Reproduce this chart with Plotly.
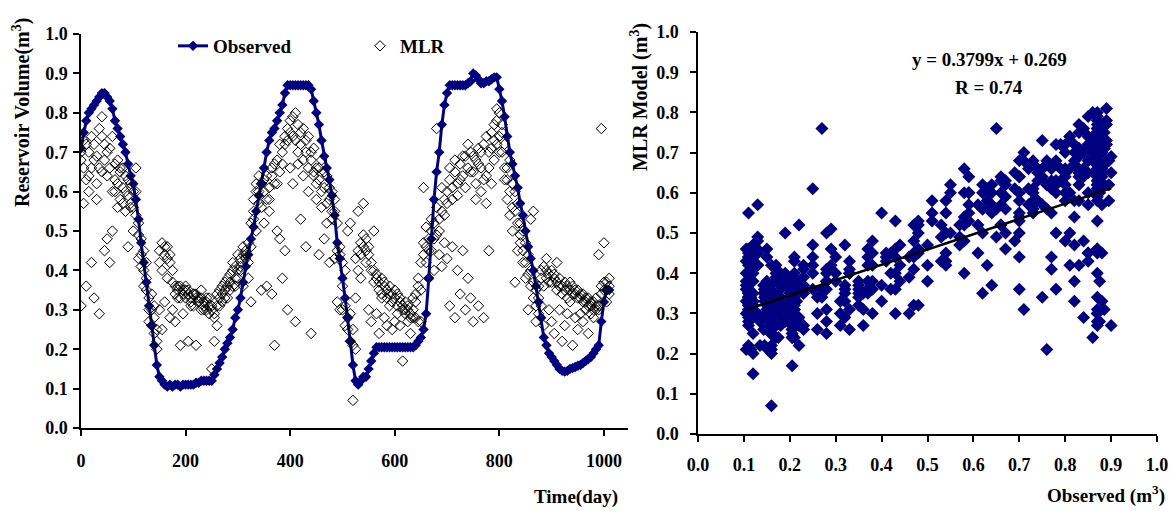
import plotly.graph_objects as go

# sample days (every 5 days)
days = list(range(0, 1015, 5))

# observed reservoir volume (m3)
observed = [
    0.71, 0.75, 0.78, 0.80, 0.81, 0.82, 0.83, 0.84, 0.85, 0.85,
    0.84, 0.83, 0.81, 0.78, 0.76, 0.74, 0.72, 0.70, 0.67, 0.64,
    0.62, 0.58, 0.53, 0.47, 0.42, 0.37, 0.31, 0.26, 0.21, 0.16,
    0.13, 0.12, 0.11, 0.105, 0.11, 0.105, 0.11, 0.11, 0.105, 0.11,
    0.11, 0.11, 0.11, 0.11, 0.115, 0.115, 0.12, 0.12, 0.12, 0.12,
    0.12, 0.135, 0.15, 0.165, 0.18, 0.20, 0.215, 0.23, 0.25, 0.28,
    0.30, 0.33, 0.37, 0.41, 0.44, 0.48, 0.51, 0.55, 0.59, 0.62,
    0.66, 0.70, 0.73, 0.75, 0.76, 0.78, 0.80, 0.82, 0.85, 0.87,
    0.87, 0.87, 0.87, 0.87, 0.87, 0.87, 0.87, 0.87, 0.86, 0.83,
    0.80, 0.77, 0.73, 0.69, 0.66, 0.63, 0.59, 0.54, 0.47, 0.43,
    0.38, 0.33, 0.28, 0.22, 0.16, 0.12, 0.11, 0.12, 0.13, 0.13,
    0.15, 0.17, 0.19, 0.205, 0.205, 0.205, 0.205, 0.205, 0.205, 0.205,
    0.205, 0.205, 0.205, 0.205, 0.205, 0.205, 0.205, 0.205, 0.21, 0.22,
    0.23, 0.25, 0.29, 0.38, 0.48, 0.58, 0.65, 0.70, 0.77, 0.82,
    0.85, 0.87, 0.87, 0.87, 0.87, 0.87, 0.87, 0.87, 0.875, 0.88,
    0.90, 0.895, 0.885, 0.875, 0.875, 0.88, 0.88, 0.885, 0.89, 0.89,
    0.86, 0.83, 0.79, 0.74, 0.70, 0.67, 0.64, 0.61, 0.57, 0.54,
    0.50, 0.46, 0.43, 0.40, 0.36, 0.32, 0.28, 0.23, 0.21, 0.19,
    0.18, 0.17, 0.16, 0.15, 0.145, 0.143, 0.145, 0.15, 0.152, 0.155,
    0.158, 0.16, 0.165, 0.17, 0.175, 0.18, 0.19, 0.20, 0.21, 0.27,
    0.32, 0.35, 0.35,
]

# MLR model output, three readings per sample day
mlr_a = [
    0.70, 0.66, 0.72, 0.64, 0.74, 0.68, 0.62, 0.76, 0.79, 0.72,
    0.70, 0.66, 0.74, 0.63, 0.68, 0.65, 0.61, 0.64, 0.59, 0.62,
    0.56, 0.60, 0.52, 0.48, 0.45, 0.38, 0.33, 0.30, 0.24, 0.20,
    0.45, 0.47, 0.44, 0.46, 0.42, 0.40, 0.36, 0.35, 0.36, 0.34,
    0.35, 0.34, 0.33, 0.34, 0.33, 0.32, 0.33, 0.31, 0.32, 0.31,
    0.30, 0.29, 0.31, 0.33, 0.34, 0.33, 0.36, 0.37, 0.36, 0.38,
    0.40, 0.43, 0.44, 0.45, 0.42, 0.46, 0.58, 0.62, 0.60, 0.56,
    0.60, 0.64, 0.58, 0.66, 0.62, 0.68, 0.65, 0.70, 0.72, 0.76,
    0.78, 0.74, 0.80, 0.77, 0.72, 0.76, 0.70, 0.74, 0.68, 0.71,
    0.66, 0.63, 0.68, 0.61, 0.64, 0.58, 0.60, 0.55, 0.52, 0.46,
    0.42, 0.40, 0.28, 0.22, 0.07, 0.20, 0.45, 0.47, 0.46, 0.48,
    0.44, 0.42, 0.40, 0.38, 0.37, 0.38, 0.36, 0.35, 0.36, 0.34,
    0.33, 0.34, 0.32, 0.31, 0.32, 0.30, 0.29, 0.30, 0.28, 0.36,
    0.35, 0.44, 0.46, 0.48, 0.50, 0.52, 0.49, 0.53, 0.55, 0.58,
    0.60, 0.63, 0.58, 0.65, 0.62, 0.67, 0.64, 0.69, 0.66, 0.70,
    0.65, 0.68, 0.71, 0.66, 0.72, 0.64, 0.70, 0.75, 0.73, 0.78,
    0.74, 0.70, 0.72, 0.66, 0.68, 0.62, 0.60, 0.57, 0.52, 0.50,
    0.47, 0.44, 0.40, 0.37, 0.35, 0.33, 0.40, 0.41, 0.38, 0.39,
    0.40, 0.38, 0.37, 0.38, 0.36, 0.37, 0.36, 0.35, 0.36, 0.34,
    0.35, 0.33, 0.34, 0.32, 0.33, 0.31, 0.32, 0.30, 0.31, 0.36,
    0.35, 0.37, 0.34,
]

mlr_b = [
    0.31, 0.57, 0.36, 0.60, 0.42, 0.33, 0.58, 0.29, 0.65, 0.45,
    0.48, 0.42, 0.50, 0.60, 0.56, 0.66, 0.57, 0.55, 0.46, 0.57,
    0.50, 0.66, 0.43, 0.41, 0.36, 0.42, 0.27, 0.34, 0.28, 0.22,
    0.30, 0.25, 0.32, 0.38, 0.28, 0.30, 0.27, 0.33, 0.21, 0.29,
    0.36, 0.22, 0.31, 0.34, 0.21, 0.32, 0.35, 0.30, 0.33, 0.29,
    0.15, 0.22, 0.26, 0.35, 0.32, 0.37, 0.33, 0.35, 0.40, 0.36,
    0.38, 0.41, 0.36, 0.44, 0.38, 0.32, 0.53, 0.50, 0.64, 0.35,
    0.52, 0.36, 0.55, 0.34, 0.21, 0.50, 0.48, 0.38, 0.45, 0.30,
    0.66, 0.62, 0.27, 0.67, 0.53, 0.64, 0.46, 0.60, 0.24, 0.65,
    0.58, 0.44, 0.56, 0.48, 0.52, 0.42, 0.55, 0.43, 0.32, 0.30,
    0.30, 0.26, 0.50, 0.52, 0.25, 0.33, 0.55, 0.38, 0.57, 0.42,
    0.30, 0.27, 0.50, 0.29, 0.24, 0.33, 0.28, 0.26, 0.31, 0.25,
    0.27, 0.29, 0.26, 0.17, 0.30, 0.27, 0.24, 0.28, 0.34, 0.27,
    0.27, 0.61, 0.42, 0.38, 0.45, 0.40, 0.76, 0.44, 0.41, 0.47,
    0.43, 0.31, 0.46, 0.28, 0.40, 0.34, 0.45, 0.30, 0.38, 0.33,
    0.27, 0.58, 0.31, 0.60, 0.28, 0.57, 0.45, 0.62, 0.68, 0.81,
    0.80, 0.77, 0.63, 0.58, 0.54, 0.50, 0.37, 0.45, 0.49, 0.42,
    0.38, 0.30, 0.53, 0.55, 0.27, 0.29, 0.31, 0.26, 0.43, 0.30,
    0.27, 0.24, 0.42, 0.30, 0.22, 0.26, 0.29, 0.32, 0.21, 0.28,
    0.25, 0.29, 0.27, 0.30, 0.24, 0.29, 0.28, 0.31, 0.44, 0.76,
    0.47, 0.32, 0.38,
]

mlr_c = [
    0.68, 0.73, 0.63, 0.70, 0.66, 0.72, 0.69, 0.66, 0.74, 0.68,
    0.64, 0.71, 0.60, 0.67, 0.62, 0.58, 0.66, 0.60, 0.63, 0.56,
    0.60, 0.54, 0.49, 0.44, 0.40, 0.35, 0.30, 0.26, 0.31, 0.25,
    0.42, 0.40, 0.46, 0.43, 0.44, 0.37, 0.34, 0.36, 0.33, 0.35,
    0.33, 0.35, 0.32, 0.31, 0.34, 0.33, 0.30, 0.32, 0.30, 0.33,
    0.31, 0.28, 0.34, 0.31, 0.36, 0.35, 0.38, 0.39, 0.42, 0.41,
    0.44, 0.40, 0.46, 0.43, 0.47, 0.52, 0.55, 0.60, 0.57, 0.62,
    0.63, 0.58, 0.61, 0.64, 0.67, 0.62, 0.72, 0.67, 0.74, 0.73,
    0.75, 0.79, 0.73, 0.70, 0.75, 0.68, 0.73, 0.66, 0.70, 0.64,
    0.62, 0.66, 0.60, 0.65, 0.57, 0.61, 0.53, 0.58, 0.45, 0.44,
    0.36, 0.31, 0.25, 0.29, 0.21, 0.43, 0.40, 0.44, 0.49, 0.45,
    0.46, 0.40, 0.37, 0.39, 0.35, 0.34, 0.37, 0.33, 0.34, 0.32,
    0.35, 0.31, 0.33, 0.30, 0.29, 0.31, 0.28, 0.33, 0.32, 0.38,
    0.42, 0.47, 0.51, 0.45, 0.53, 0.48, 0.56, 0.50, 0.61, 0.54,
    0.57, 0.66, 0.61, 0.68, 0.59, 0.63, 0.69, 0.61, 0.72, 0.65,
    0.69, 0.62, 0.67, 0.70, 0.63, 0.74, 0.66, 0.71, 0.77, 0.72,
    0.70, 0.75, 0.66, 0.63, 0.60, 0.56, 0.55, 0.52, 0.47, 0.45,
    0.42, 0.39, 0.36, 0.33, 0.31, 0.36, 0.38, 0.36, 0.40, 0.37,
    0.37, 0.39, 0.35, 0.36, 0.34, 0.35, 0.33, 0.37, 0.34, 0.35,
    0.33, 0.34, 0.32, 0.33, 0.31, 0.32, 0.30, 0.33, 0.30, 0.34,
    0.37, 0.35, 0.36,
]

slope = 0.3799
intercept = 0.269
r_value = 0.74

W, H = 1173, 511
navy = "#000080"
serif = "Liberation Serif"
fnt = dict(family=serif, size=18, color="black", weight="bold")
leg_fnt = dict(family=serif, size=19, color="black", weight="bold")
title_fnt = dict(family=serif, size=19, color="black", weight="bold")
vtitle_fnt = dict(family=serif, size=20, color="black", weight="bold")

def px(x):
    return x / W

def py(y):
    return 1 - y / H

mlr_all = mlr_a + mlr_b + mlr_c
days_all = days * 3
obs_all = observed * 3

fig = go.Figure()

fig.add_trace(go.Scatter(
    x=days, y=observed, name="Observed", mode="lines+markers",
    line=dict(color=navy, width=3),
    marker=dict(symbol="diamond", size=8, color=navy),
    xaxis="x", yaxis="y", legend="legend",
))
fig.add_trace(go.Scatter(
    x=days_all, y=mlr_all, name="MLR", mode="markers",
    marker=dict(symbol="diamond-open", size=8, color="black", line=dict(width=1)),
    xaxis="x", yaxis="y", legend="legend2",
))

# scatter: observed vs MLR
fig.add_trace(go.Scatter(
    x=obs_all, y=mlr_all, mode="markers", showlegend=False,
    marker=dict(symbol="diamond", size=10, color=navy),
    xaxis="x2", yaxis="y2",
))
x_lo, x_hi = min(observed), max(observed)
fig.add_trace(go.Scatter(
    x=[x_lo, x_hi], y=[slope * x_lo + intercept, slope * x_hi + intercept],
    mode="lines", showlegend=False, line=dict(color="black", width=2.5),
    xaxis="x2", yaxis="y2",
))

axis_common = dict(
    showgrid=False, zeroline=False, showline=True, linecolor="black", linewidth=1.5,
    ticks="outside", ticklen=6, tickcolor="black", tickwidth=1.5,
    tickfont=fnt,
)

fig.update_layout(
    width=W, height=H,
    margin=dict(l=0, r=0, t=0, b=0, autoexpand=False),
    paper_bgcolor="white", plot_bgcolor="white",
    font=fnt,
    xaxis=dict(axis_common, domain=[px(81), px(628)], range=[0, 1046],
               tickvals=[0, 200, 400, 600, 800, 1000], ticklabelstandoff=10, anchor="y"),
    yaxis=dict(axis_common, domain=[py(428), py(34)], range=[0, 1.0],
               dtick=0.1, tickformat=".1f", ticklabelstandoff=2, anchor="x"),
    xaxis2=dict(axis_common, domain=[px(698), px(1157)], range=[0, 1.0],
                dtick=0.1, tickformat=".1f", ticklabelstandoff=8, anchor="y2"),
    yaxis2=dict(axis_common, domain=[py(434), py(32)], range=[0, 1.0],
                dtick=0.1, tickformat=".1f", ticklabelstandoff=8, anchor="x2"),
    legend=dict(x=px(173), y=py(46), xanchor="left", yanchor="middle",
                bgcolor="rgba(0,0,0,0)", font=leg_fnt),
    legend2=dict(x=px(360), y=py(46), xanchor="left", yanchor="middle",
                 bgcolor="rgba(0,0,0,0)", font=leg_fnt),
    annotations=[
        dict(text="Reservoir Volume(m<sup>3</sup>)", x=px(22), y=py(113), textangle=-90,
             font=vtitle_fnt),
        dict(text="Time(day)", x=px(576), y=py(497), font=title_fnt),
        dict(text="MLR Model (m<sup>3</sup>)", x=px(640), y=py(97), textangle=-90,
             font=vtitle_fnt),
        dict(text="Observed (m<sup>3</sup>)", x=px(1106), y=py(494), font=title_fnt),
        dict(text=f"y = {slope}x + {intercept}", x=px(989), y=py(59), font=title_fnt),
        dict(text=f"R = {r_value}", x=px(989), y=py(87), font=title_fnt),
    ],
)
for a in fig.layout.annotations:
    a.update(xref="paper", yref="paper", showarrow=False,
             xanchor="center", yanchor="middle")

fig.write_html("out.html", config={"displayModeBar": False},
               post_script="document.body.style.margin='0px';")
